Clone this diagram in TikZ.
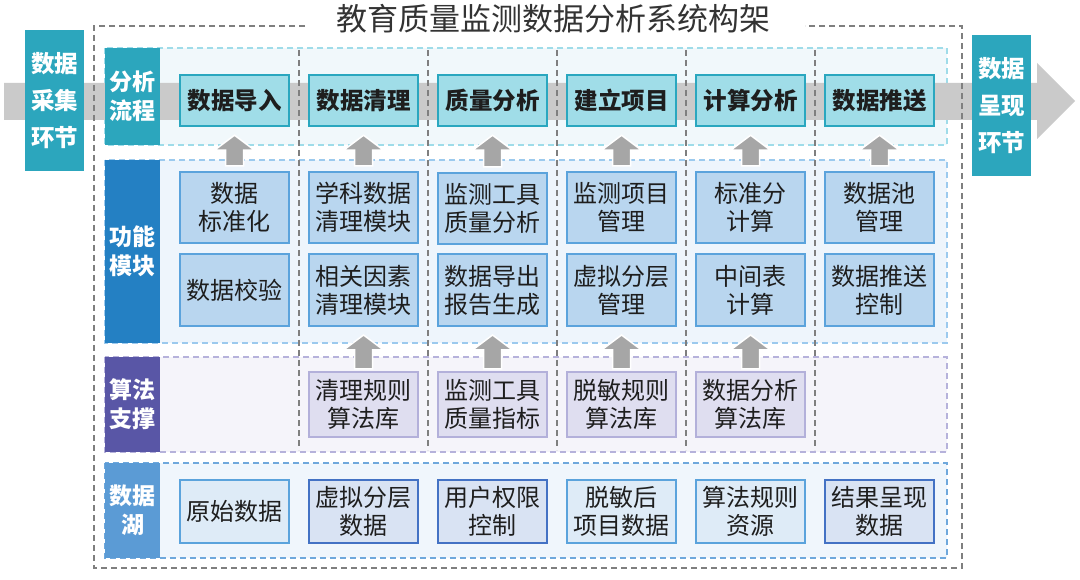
\documentclass[tikz,border=0pt]{standalone}
\usepackage{fontspec}
\setmainfont{Noto Sans CJK SC}
\usetikzlibrary{calc}
\definecolor{txt}{HTML}{1E1E1E}
\definecolor{titlec}{HTML}{333333}
\definecolor{tealb}{HTML}{2AA7BF}
\definecolor{tealf}{HTML}{A0DDE8}
\definecolor{tealL}{HTML}{2CA6BD}
\definecolor{blueb}{HTML}{5BA3DC}
\definecolor{bluef}{HTML}{B9D6EF}
\definecolor{purb}{HTML}{B3B0DA}
\definecolor{purf}{HTML}{DFDEF0}
\definecolor{lakef}{HTML}{DEEBF7}
\definecolor{lakef2}{HTML}{D9E3F3}
\definecolor{darkb}{HTML}{4472C4}
\definecolor{labA}{HTML}{2CA6BD}
\definecolor{labB}{HTML}{2480C3}
\definecolor{labC}{HTML}{5956A6}
\definecolor{labD}{HTML}{5B9BD5}
\definecolor{regAf}{HTML}{F1F8FB}
\definecolor{regAd}{HTML}{9FDCE9}
\definecolor{regBf}{HTML}{EEF5FC}
\definecolor{regBd}{HTML}{9CCAEE}
\definecolor{regCf}{HTML}{F5F4FA}
\definecolor{regCd}{HTML}{B6B2DB}
\definecolor{regDf}{HTML}{F0F6FC}
\definecolor{regDd}{HTML}{6FA8DC}
\definecolor{bandgray}{HTML}{CACACA}
\definecolor{arrowgray}{HTML}{A6A6A6}
\definecolor{sepgray}{HTML}{7F7F7F}
\tikzset{
  base/.style={align=center, inner sep=0pt, text=txt, font=\fontsize{24}{28}\selectfont},
  pbox/.style={base, draw=tealb, fill=tealf, line width=2.5pt, minimum width=109pt, minimum height=51pt, font=\bfseries\fontsize{23.5}{28}\selectfont},
  fbox/.style={base, draw=blueb, fill=bluef, line width=2pt, minimum width=109pt},
  abox/.style={base, draw=purb, fill=purf, line width=2.5pt, minimum width=109pt, minimum height=65pt},
  dbox/.style={base, draw=blueb, fill=lakef, line width=2.5pt, minimum width=109pt, minimum height=63pt},
  ddbox/.style={dbox, draw=darkb, fill=lakef2},
  lab/.style={align=center, inner sep=0pt, text=white, font=\bfseries\fontsize{23}{29}\selectfont, minimum width=55pt},
  side/.style={align=center, inner sep=0pt, text=white, fill=tealL, font=\bfseries\fontsize{23.5}{37}\selectfont, minimum width=59pt, minimum height=141pt},
  region/.style={dash pattern=on 6pt off 4pt, line width=1.5pt},
  sep/.style={draw=sepgray, dash pattern=on 6pt off 4pt, line width=1.3pt},
  blk/.style={fill=arrowgray, draw=white, line width=1.5pt},
}
\newcommand\uparrowblk[3]{\draw[blk] let \p1=(#1.north), \p2=(#2.south) in
  (\x1-9pt,\y1+#3) -- (\x1-9pt,\y2-23pt) -- (\x1-20pt,\y2-23pt) -- (\x1,\y2-8pt) --
  (\x1+20pt,\y2-23pt) -- (\x1+9pt,\y2-23pt) -- (\x1+9pt,\y1+#3) -- cycle;}
\begin{document}
\begin{tikzpicture}[x=1pt,y=-1pt]
\useasboundingbox[fill=white] (0,0) rectangle (1080,580);
% regions
\filldraw[region, fill=regAf, draw=regAd] (105,48) rectangle (947,145);
\filldraw[region, fill=regBf, draw=regBd] (105,160) rectangle (947,343);
\filldraw[region, fill=regCf, draw=regCd] (105,357) rectangle (947,452);
\filldraw[region, fill=regDf, draw=regDd] (105,463) rectangle (947,558);
% band arrow
\fill[bandgray] (4,83) -- (1037,83) -- (1037,63) -- (1075,101) -- (1037,139) -- (1037,120) -- (4,120) -- cycle;
% outer frame and title
\node[font=\fontsize{31}{36}\selectfont, text=titlec, inner sep=0pt] (title) at (553,19) {教育质量监测数据分析系统构架};
\coordinate (fl) at (305,26);
\coordinate (fr) at (805,26);
\draw[sep] (fl) -- (94,26) -- (94,568) -- (962,568) -- (962,26) -- (fr);
% column separators
\foreach \x in {299,428,557,686,815} \draw[sep] (\x,50) -- (\x,450);
% side boxes
\node[side] (src) at (54.5,100.5) {数据\\采集\\环节};
\node[side] (dst) at (1001.5,105.5) {数据\\呈现\\环节};
% layer labels
\node[lab, fill=labA, minimum height=97pt] (LA) at (132.5,96.5) {分析\\流程};
\node[lab, fill=labB, minimum height=183pt] (LB) at (132.5,251.5) {功能\\模块};
\node[lab, fill=labC, minimum height=95pt] (LC) at (132.5,404.5) {算法\\支撑};
\node[lab, fill=labD, minimum height=95pt] (LD) at (132.5,510.5) {数据\\湖};
% process row
\node[pbox] (p1) at (234.5,100.5) {数据导入};
\node[pbox] (p2) at (363.5,100.5) {数据清理};
\node[pbox] (p3) at (492.5,100.5) {质量分析};
\node[pbox] (p4) at (621.5,100.5) {建立项目};
\node[pbox] (p5) at (750.5,100.5) {计算分析};
\node[pbox] (p6) at (879.5,100.5) {数据推送};
% function row upper
\node[fbox, minimum height=71pt] (f1) at (234.5,207.5) {数据\\标准化};
\node[fbox, minimum height=71pt] (f2) at (363.5,207.5) {学科数据\\清理模块};
\node[fbox, minimum height=71pt] (f3) at (492.5,208.5) {监测工具\\质量分析};
\node[fbox, minimum height=71pt] (f4) at (621.5,207.5) {监测项目\\管理};
\node[fbox, minimum height=71pt] (f5) at (750.5,207.5) {标准分\\计算};
\node[fbox, minimum height=71pt] (f6) at (879.5,207.5) {数据池\\管理};
% function row lower
\node[fbox, minimum height=72pt] (g1) at (234.5,290) {数据校验};
\node[fbox, minimum height=72pt] (g2) at (363.5,290) {相关因素\\清理模块};
\node[fbox, minimum height=72pt] (g3) at (492.5,290) {数据导出\\报告生成};
\node[fbox, minimum height=72pt] (g4) at (621.5,290) {虚拟分层\\管理};
\node[fbox, minimum height=72pt] (g5) at (750.5,290) {中间表\\计算};
\node[fbox, minimum height=72pt] (g6) at (879.5,290) {数据推送\\控制};
% algorithm row
\node[abox] (a2) at (363.5,404.5) {清理规则\\算法库};
\node[abox] (a3) at (492.5,404.5) {监测工具\\质量指标};
\node[abox] (a4) at (621.5,404.5) {脱敏规则\\算法库};
\node[abox] (a5) at (750.5,404.5) {数据分析\\算法库};
% data lake row
\node[dbox] (d1) at (234.5,511.5) {原始数据};
\node[ddbox] (d2) at (363.5,511.5) {虚拟分层\\数据};
\node[ddbox] (d3) at (492.5,511.5) {用户权限\\控制};
\node[dbox] (d4) at (621.5,511.5) {脱敏后\\项目数据};
\node[dbox] (d5) at (750.5,511.5) {算法规则\\资源};
\node[ddbox] (d6) at (879.5,511.5) {结果呈现\\数据};
% arrows function -> process
\uparrowblk{f1}{p1}{5pt}
\uparrowblk{f2}{p2}{5pt}
\uparrowblk{f3}{p3}{5pt}
\uparrowblk{f4}{p4}{5pt}
\uparrowblk{f5}{p5}{5pt}
\uparrowblk{f6}{p6}{5pt}
% arrows algorithm -> function
\uparrowblk{a2}{g2}{2pt}
\uparrowblk{a3}{g3}{2pt}
\uparrowblk{a4}{g4}{2pt}
\uparrowblk{a5}{g5}{2pt}
\end{tikzpicture}
\end{document}
